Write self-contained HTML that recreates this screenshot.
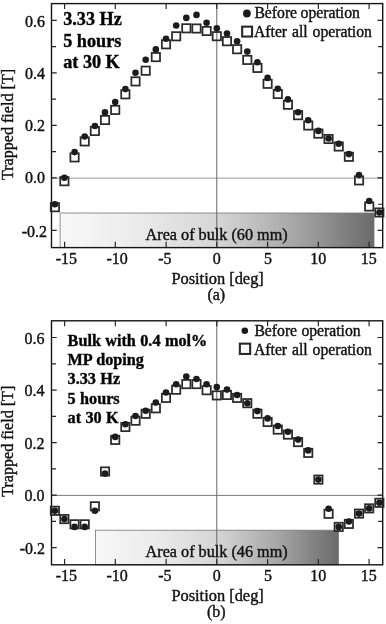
<!DOCTYPE html>
<html><head><meta charset="utf-8"><title>Trapped field</title><style>html,body{margin:0;padding:0;background:#fff}svg{display:block;filter:blur(0.35px)}.t{stroke:#111;stroke-width:.4px}</style></head><body>
<svg width="386" height="624" viewBox="0 0 386 624" font-family="'Liberation Serif', serif" font-size="16" fill="#111">
<defs><linearGradient id="ga" x1="0" x2="1" y1="0" y2="0"><stop offset="0" stop-color="#f8f8f8"/><stop offset="0.25" stop-color="#ebebeb"/><stop offset="0.5" stop-color="#d6d6d6"/><stop offset="0.75" stop-color="#a6a6a6"/><stop offset="1" stop-color="#6a6a6a"/></linearGradient><linearGradient id="gb" x1="0" x2="1" y1="0" y2="0"><stop offset="0" stop-color="#f8f8f8"/><stop offset="0.25" stop-color="#ebebeb"/><stop offset="0.5" stop-color="#d6d6d6"/><stop offset="0.75" stop-color="#a6a6a6"/><stop offset="1" stop-color="#6a6a6a"/></linearGradient></defs>
<rect width="386" height="624" fill="#fff"/>
<rect x="60.1" y="213.0" width="313.9" height="34.599999999999994" fill="url(#ga)" stroke="#777" stroke-width="0.8"/>
<line x1="51.5" y1="178.15" x2="382.7" y2="178.15" stroke="#999" stroke-width="1"/>
<line x1="216.8" y1="3.6" x2="216.8" y2="247.6" stroke="#666" stroke-width="1"/>
<rect x="51.5" y="3.6" width="331.2" height="244.0" fill="none" stroke="#151515" stroke-width="1.4"/>
<path d="M51.5 230.4h5.2M382.7 230.4h-5.2M51.5 204.2h4.5M382.7 204.2h-4.5M51.5 177.9h5.2M382.7 177.9h-5.2M51.5 151.6h4.5M382.7 151.6h-4.5M51.5 125.4h5.2M382.7 125.4h-5.2M51.5 99.1h4.5M382.7 99.1h-4.5M51.5 72.9h5.2M382.7 72.9h-5.2M51.5 46.6h4.5M382.7 46.6h-4.5M51.5 20.3h5.2M382.7 20.3h-5.2M64.6 3.6v5.5M64.6 247.6v-5.8M115.3 3.6v5.5M115.3 247.6v-5.8M166.1 3.6v5.5M166.1 247.6v-5.8M216.8 3.6v5.5M216.8 247.6v-5.8M267.6 3.6v5.5M267.6 247.6v-5.8M318.3 3.6v5.5M318.3 247.6v-5.8M369.1 3.6v5.5M369.1 247.6v-5.8" stroke="#222" stroke-width="1.15" fill="none"/>
<text class="t" x="45.0" y="27.0" text-anchor="end">0.6</text>
<text class="t" x="45.0" y="79.3" text-anchor="end">0.4</text>
<text class="t" x="45.0" y="131.3" text-anchor="end">0.2</text>
<text class="t" x="45.0" y="183.2" text-anchor="end">0.0</text>
<text class="t" x="47.0" y="237.3" text-anchor="end">-0.2</text>
<text class="t" x="66.4" y="264.2" text-anchor="middle">-15</text>
<text class="t" x="117.1" y="264.2" text-anchor="middle">-10</text>
<text class="t" x="164.9" y="264.2" text-anchor="middle">-5</text>
<text class="t" x="216.8" y="264.2" text-anchor="middle">0</text>
<text class="t" x="267.9" y="264.2" text-anchor="middle">5</text>
<text class="t" x="318.3" y="264.2" text-anchor="middle">10</text>
<text class="t" x="368.8" y="264.2" text-anchor="middle">15</text>
<text class="t" x="217.6" y="283.5" text-anchor="middle" font-size="16.4">Position [deg]</text>
<text class="t" x="216.3" y="299.9" text-anchor="middle">(a)</text>
<text class="t" transform="translate(13.2 124.5) rotate(-90)" text-anchor="middle" font-size="16.1">Trapped field [T]</text>
<text class="t" x="216.6" y="239.5" text-anchor="middle" font-size="16.2">Area of bulk (60 mm)</text>
<circle cx="246.9" cy="13.5" r="3.9" fill="#1a1a1a"/>
<rect x="242.15" y="26.650000000000002" width="9.9" height="9.9" fill="none" stroke="#2a2a2a" stroke-width="2.1"/>
<text class="t" x="254.4" y="18.4" font-size="15.7" word-spacing="-0.4">Before operation</text>
<text class="t" x="254.0" y="37" font-size="15.7" word-spacing="1">After all operation</text>
<text class="t" x="63.2" y="25.2" font-weight="bold" fill="#000" font-size="18.2" word-spacing="0">3.33 Hz</text>
<text class="t" x="63.2" y="46.7" font-weight="bold" fill="#000" font-size="18.2" word-spacing="0">5 hours</text>
<text class="t" x="63.2" y="68.2" font-weight="bold" fill="#000" font-size="18.2" word-spacing="0">at 30 K</text>
<g fill="none" stroke="#2a2a2a" stroke-width="1.75"><rect x="50.75" y="203.05" width="8.3" height="8.3"/><rect x="60.25" y="177.05" width="8.3" height="8.3"/><rect x="70.41" y="153.25" width="8.3" height="8.3"/><rect x="80.57" y="137.25" width="8.3" height="8.3"/><rect x="90.73" y="126.85" width="8.3" height="8.3"/><rect x="100.89" y="115.85" width="8.3" height="8.3"/><rect x="111.05" y="105.75" width="8.3" height="8.3"/><rect x="121.21" y="90.15" width="8.3" height="8.3"/><rect x="131.37" y="77.25" width="8.3" height="8.3"/><rect x="141.53" y="66.55" width="8.3" height="8.3"/><rect x="151.69" y="52.95" width="8.3" height="8.3"/><rect x="161.85" y="40.15" width="8.3" height="8.3"/><rect x="172.01" y="32.15" width="8.3" height="8.3"/><rect x="182.17" y="24.15" width="8.3" height="8.3"/><rect x="192.33" y="24.35" width="8.3" height="8.3"/><rect x="202.49" y="26.85" width="8.3" height="8.3"/><rect x="212.65" y="32.05" width="8.3" height="8.3"/><rect x="222.81" y="37.05" width="8.3" height="8.3"/><rect x="232.97" y="45.05" width="8.3" height="8.3"/><rect x="243.13" y="55.75" width="8.3" height="8.3"/><rect x="253.29" y="63.75" width="8.3" height="8.3"/><rect x="263.45" y="79.65" width="8.3" height="8.3"/><rect x="273.61" y="89.85" width="8.3" height="8.3"/><rect x="283.77" y="100.55" width="8.3" height="8.3"/><rect x="293.93" y="111.05" width="8.3" height="8.3"/><rect x="304.09" y="121.35" width="8.3" height="8.3"/><rect x="314.25" y="129.45" width="8.3" height="8.3"/><rect x="324.41" y="134.85" width="8.3" height="8.3"/><rect x="334.57" y="142.35" width="8.3" height="8.3"/><rect x="344.73" y="152.65" width="8.3" height="8.3"/><rect x="354.89" y="176.25" width="8.3" height="8.3"/><rect x="365.05" y="202.35" width="8.3" height="8.3"/><rect x="375.21" y="208.35" width="8.3" height="8.3"/></g>
<g fill="#1c1c1c"><circle cx="54.9" cy="204.3" r="3.3"/><circle cx="64.4" cy="177.8" r="3.3"/><circle cx="74.6" cy="152.1" r="3.3"/><circle cx="84.7" cy="136.5" r="3.3"/><circle cx="94.9" cy="126.0" r="3.3"/><circle cx="105.0" cy="112.4" r="3.3"/><circle cx="115.2" cy="102.1" r="3.3"/><circle cx="125.4" cy="89.1" r="3.3"/><circle cx="135.5" cy="72.8" r="3.3"/><circle cx="145.7" cy="59.8" r="3.3"/><circle cx="155.8" cy="49.4" r="3.3"/><circle cx="166.0" cy="38.8" r="3.3"/><circle cx="176.2" cy="25.5" r="3.3"/><circle cx="186.3" cy="17.9" r="3.3"/><circle cx="196.5" cy="14.9" r="3.3"/><circle cx="206.6" cy="22.8" r="3.3"/><circle cx="216.8" cy="28.3" r="3.3"/><circle cx="227.0" cy="33.5" r="3.3"/><circle cx="237.1" cy="41.2" r="3.3"/><circle cx="247.3" cy="51.6" r="3.3"/><circle cx="257.4" cy="62.3" r="3.3"/><circle cx="267.6" cy="77.9" r="3.3"/><circle cx="277.8" cy="88.7" r="3.3"/><circle cx="287.9" cy="99.4" r="3.3"/><circle cx="298.1" cy="112.3" r="3.3"/><circle cx="308.2" cy="120.2" r="3.3"/><circle cx="318.4" cy="130.9" r="3.3"/><circle cx="328.6" cy="138.5" r="3.3"/><circle cx="338.7" cy="143.8" r="3.3"/><circle cx="348.9" cy="154.1" r="3.3"/><circle cx="359.0" cy="175.1" r="3.3"/><circle cx="369.2" cy="201.0" r="3.3"/><circle cx="379.4" cy="212.5" r="3.3"/></g>
<rect x="95.4" y="530.2" width="243.1" height="34.59999999999991" fill="url(#gb)" stroke="#777" stroke-width="0.8"/>
<line x1="51.5" y1="495.4" x2="382.7" y2="495.4" stroke="#7a7a7a" stroke-width="1"/>
<line x1="216.8" y1="320.8" x2="216.8" y2="564.8" stroke="#666" stroke-width="1"/>
<rect x="51.5" y="320.8" width="331.2" height="243.99999999999994" fill="none" stroke="#151515" stroke-width="1.4"/>
<path d="M51.5 547.6h5.2M382.7 547.6h-5.2M51.5 521.4h4.5M382.7 521.4h-4.5M51.5 495.1h5.2M382.7 495.1h-5.2M51.5 468.8h4.5M382.7 468.8h-4.5M51.5 442.6h5.2M382.7 442.6h-5.2M51.5 416.3h4.5M382.7 416.3h-4.5M51.5 390.1h5.2M382.7 390.1h-5.2M51.5 363.8h4.5M382.7 363.8h-4.5M51.5 337.5h5.2M382.7 337.5h-5.2M64.6 320.8v5.5M64.6 564.8v-5.8M115.3 320.8v5.5M115.3 564.8v-5.8M166.1 320.8v5.5M166.1 564.8v-5.8M216.8 320.8v5.5M216.8 564.8v-5.8M267.6 320.8v5.5M267.6 564.8v-5.8M318.3 320.8v5.5M318.3 564.8v-5.8M369.1 320.8v5.5M369.1 564.8v-5.8" stroke="#222" stroke-width="1.15" fill="none"/>
<text class="t" x="44.4" y="343.7" text-anchor="end">0.6</text>
<text class="t" x="44.4" y="395.9" text-anchor="end">0.4</text>
<text class="t" x="44.4" y="448.6" text-anchor="end">0.2</text>
<text class="t" x="44.4" y="501.4" text-anchor="end">0.0</text>
<text class="t" x="45.0" y="553.5" text-anchor="end">-0.2</text>
<text class="t" x="66.4" y="581.4" text-anchor="middle">-15</text>
<text class="t" x="117.1" y="581.4" text-anchor="middle">-10</text>
<text class="t" x="164.9" y="581.4" text-anchor="middle">-5</text>
<text class="t" x="216.8" y="581.4" text-anchor="middle">0</text>
<text class="t" x="267.9" y="581.4" text-anchor="middle">5</text>
<text class="t" x="318.3" y="581.4" text-anchor="middle">10</text>
<text class="t" x="368.8" y="581.4" text-anchor="middle">15</text>
<text class="t" x="217.6" y="600.7" text-anchor="middle" font-size="16.4">Position [deg]</text>
<text class="t" x="216.3" y="617.0999999999999" text-anchor="middle">(b)</text>
<text class="t" transform="translate(13.2 441.3) rotate(-90)" text-anchor="middle" font-size="16.1">Trapped field [T]</text>
<text class="t" x="216.6" y="556.7" text-anchor="middle" font-size="16.2">Area of bulk (46 mm)</text>
<circle cx="244.8" cy="330.7" r="3.3" fill="#1a1a1a"/>
<rect x="239.85" y="343.65000000000003" width="10.3" height="10.3" fill="none" stroke="#2a2a2a" stroke-width="2.1"/>
<text class="t" x="254.4" y="336.09999999999997" font-size="15.7" word-spacing="0.4">Before operation</text>
<text class="t" x="254.0" y="354.7" font-size="15.7" word-spacing="1">After all operation</text>
<text class="t" x="67.6" y="345.5" font-weight="bold" fill="#000" font-size="16.2" word-spacing="0.35">Bulk with 0.4 mol%</text>
<text class="t" x="67.6" y="364.9" font-weight="bold" fill="#000" font-size="16.2" word-spacing="0.35">MP doping</text>
<text class="t" x="67.6" y="384.4" font-weight="bold" fill="#000" font-size="16.2" word-spacing="0.35">3.33 Hz</text>
<text class="t" x="67.6" y="403.9" font-weight="bold" fill="#000" font-size="16.2" word-spacing="0.35">5 hours</text>
<text class="t" x="67.6" y="423.3" font-weight="bold" fill="#000" font-size="16.2" word-spacing="0.35">at 30 K</text>
<g fill="none" stroke="#2a2a2a" stroke-width="1.75"><rect x="50.75" y="506.65" width="8.3" height="8.3"/><rect x="60.25" y="514.95" width="8.3" height="8.3"/><rect x="70.41" y="520.15" width="8.3" height="8.3"/><rect x="80.57" y="520.15" width="8.3" height="8.3"/><rect x="90.73" y="502.15" width="8.3" height="8.3"/><rect x="100.89" y="467.35" width="8.3" height="8.3"/><rect x="111.05" y="435.75" width="8.3" height="8.3"/><rect x="121.21" y="422.85" width="8.3" height="8.3"/><rect x="131.37" y="416.55" width="8.3" height="8.3"/><rect x="141.53" y="409.65" width="8.3" height="8.3"/><rect x="151.69" y="404.15" width="8.3" height="8.3"/><rect x="161.85" y="393.75" width="8.3" height="8.3"/><rect x="172.01" y="385.55" width="8.3" height="8.3"/><rect x="182.17" y="379.95" width="8.3" height="8.3"/><rect x="192.33" y="379.95" width="8.3" height="8.3"/><rect x="202.49" y="386.05" width="8.3" height="8.3"/><rect x="212.65" y="391.25" width="8.3" height="8.3"/><rect x="222.81" y="390.85" width="8.3" height="8.3"/><rect x="232.97" y="393.75" width="8.3" height="8.3"/><rect x="243.13" y="399.05" width="8.3" height="8.3"/><rect x="253.29" y="409.55" width="8.3" height="8.3"/><rect x="263.45" y="417.85" width="8.3" height="8.3"/><rect x="273.61" y="425.45" width="8.3" height="8.3"/><rect x="283.77" y="430.45" width="8.3" height="8.3"/><rect x="293.93" y="437.95" width="8.3" height="8.3"/><rect x="304.09" y="448.75" width="8.3" height="8.3"/><rect x="314.25" y="475.45" width="8.3" height="8.3"/><rect x="324.41" y="509.65" width="8.3" height="8.3"/><rect x="334.57" y="522.75" width="8.3" height="8.3"/><rect x="344.73" y="519.75" width="8.3" height="8.3"/><rect x="354.89" y="509.45" width="8.3" height="8.3"/><rect x="365.05" y="504.25" width="8.3" height="8.3"/><rect x="375.21" y="498.65" width="8.3" height="8.3"/></g>
<g fill="#1c1c1c"><circle cx="54.9" cy="510.8" r="3.3"/><circle cx="64.4" cy="519.1" r="3.3"/><circle cx="74.6" cy="526.9" r="3.3"/><circle cx="84.7" cy="526.9" r="3.3"/><circle cx="94.9" cy="510.8" r="3.3"/><circle cx="105.0" cy="473.6" r="3.3"/><circle cx="115.2" cy="436.9" r="3.3"/><circle cx="125.4" cy="424.2" r="3.3"/><circle cx="135.5" cy="416.0" r="3.3"/><circle cx="145.7" cy="410.7" r="3.3"/><circle cx="155.8" cy="402.6" r="3.3"/><circle cx="166.0" cy="392.5" r="3.3"/><circle cx="176.2" cy="384.2" r="3.3"/><circle cx="186.3" cy="376.5" r="3.3"/><circle cx="196.5" cy="379.0" r="3.3"/><circle cx="206.6" cy="384.2" r="3.3"/><circle cx="216.8" cy="387.1" r="3.3"/><circle cx="227.0" cy="389.6" r="3.3"/><circle cx="237.1" cy="395.0" r="3.3"/><circle cx="247.3" cy="403.2" r="3.3"/><circle cx="257.4" cy="411.1" r="3.3"/><circle cx="267.6" cy="418.4" r="3.3"/><circle cx="277.8" cy="426.0" r="3.3"/><circle cx="287.9" cy="431.7" r="3.3"/><circle cx="298.1" cy="439.6" r="3.3"/><circle cx="308.2" cy="450.4" r="3.3"/><circle cx="318.4" cy="479.6" r="3.3"/><circle cx="328.6" cy="508.7" r="3.3"/><circle cx="338.7" cy="526.9" r="3.3"/><circle cx="348.9" cy="521.5" r="3.3"/><circle cx="359.0" cy="513.6" r="3.3"/><circle cx="369.2" cy="508.4" r="3.3"/><circle cx="379.4" cy="502.8" r="3.3"/></g>
</svg>
</body></html>
